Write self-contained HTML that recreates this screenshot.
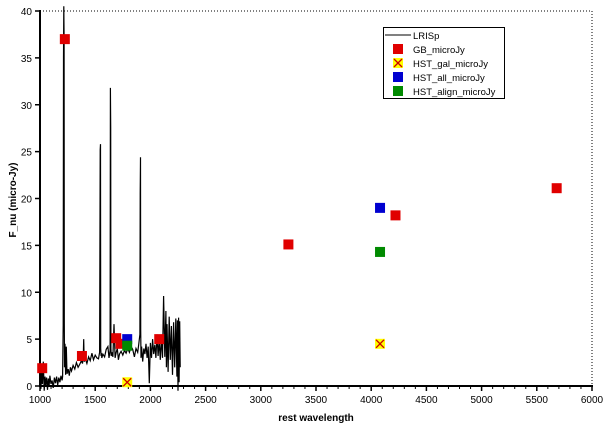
<!DOCTYPE html>
<html><head><meta charset="utf-8"><style>
body{margin:0;background:#fff}
svg{display:block;font-family:"Liberation Sans",sans-serif}
</style></head><body>
<svg id="chart" width="610" height="430"></svg>
<script>
const xTicks=[1000,1500,2000,2500,3000,3500,4000,4500,5000,5500,6000];
const yTicks=[0,5,10,15,20,25,30,35,40];
const specWave=[1000,1008,1015,1022,1030,1038,1045,1052,1060,1068,1075,1082,1090,1100,1110,1120,1130,1140,1150,1160,1170,1180,1190,1200,1205,1210,1213,1216,1218,1220,1222,1226,1232,1238,1245,1255,1265,1275,1285,1300,1315,1330,1345,1360,1375,1385,1392,1396,1400,1410,1425,1440,1455,1470,1485,1500,1515,1530,1540,1545,1548,1550,1553,1556,1560,1570,1585,1600,1615,1625,1635,1638,1640,1642,1645,1650,1660,1670,1680,1690,1700,1710,1720,1735,1750,1765,1780,1795,1810,1825,1840,1855,1870,1885,1895,1905,1908,1910,1912,1915,1920,1930,1940,1950,1960,1970,1980,1990,2000,2010,2020,2030,2040,2050,2060,2070,2080,2090,2100,2110,2120,2130,2140,2145,2150,2160,2170,2180,2190,2200,2210,2220,2230,2240,2245,2250,2255,2260,2265,2270];
const specFlux=[2.4,-0.3,1.8,0.2,2.6,-0.5,1.0,0.1,0.9,-0.4,0.8,0.0,1.1,0.2,0.6,-0.2,0.9,0.3,1.0,0.1,0.9,0.4,1.1,0.6,1.0,6.5,35,40.5,37,6.7,2.0,4.5,1.2,4.2,1.3,1.8,1.1,2.0,1.6,2.2,1.8,2.5,2.0,2.3,2.7,2.4,3.2,5.0,2.6,2.9,2.4,3.1,2.7,3.5,2.8,3.3,3.0,2.9,3.6,25.2,25.8,4.0,3.2,3.5,3.0,3.4,3.1,3.9,4.2,3.0,3.8,31.8,27.6,4.0,3.2,3.6,3.1,6.6,3.0,3.6,4.0,2.8,3.4,3.7,3.3,3.8,3.5,4.0,3.6,4.2,3.9,3.1,4.0,3.6,4.5,5.5,20.5,24.4,6.0,3.0,4.2,2.6,4.0,3.4,4.5,3.0,4.2,0.3,4.6,3.0,5.0,3.4,4.4,3.0,5.5,3.2,4.8,2.8,5.2,3.0,9.6,3.1,8.0,2.0,6.6,1.5,7.4,2.8,6.4,1.2,6.8,2.0,7.2,1.0,7.0,-0.5,7.3,0.4,6.9,2.0];
const gbWave=[1020,1225,1380,1690,1730,2080,3250,4220,5680];
const gbFlux=[1.9,37,3.2,5.1,4.5,5.0,15.1,18.2,21.1];
const galWave=[1790,4080];const galFlux=[0.4,4.5];
const allWave=[1790,4080];const allFlux=[5.0,19.0];
const alignWave=[1790,4080];const alignFlux=[4.3,14.3];

const NS="http://www.w3.org/2000/svg";
const svg=document.getElementById('chart');
const X0=40,X1=592,Y0=386,Y1=11;
const sx=v=>X0+(v-1000)/5000*(X1-X0);
const sy=v=>Y0-v/40*(Y0-Y1);
function mk(t,a,p){const e=document.createElementNS(NS,t);for(const k in a)e.setAttribute(k,a[k]);(p||svg).appendChild(e);return e;}
let g=mk('g',{});
let e=mk('line',{x1:X0,y1:Y1,x2:X1,y2:Y1,stroke:'#000','stroke-dasharray':'1,2'});


e=mk('line',{x1:X1,y1:Y1,x2:X1,y2:Y0,stroke:'#000','stroke-dasharray':'1,2'});


// spectrum
let d='';specWave.forEach((w,i)=>{d+=(i?'L':'M')+sx(w).toFixed(1)+','+sy(specFlux[i]).toFixed(1);});
e=mk('path',{d:d,fill:'none',stroke:'#000','stroke-width':1.2});


// axes
e=mk('line',{x1:X0,y1:Y1-1,x2:X0,y2:Y0+1,stroke:'#000','stroke-width':2});


e=mk('line',{x1:X0-1,y1:Y0,x2:X1+1,y2:Y0,stroke:'#000','stroke-width':2});


xTicks.forEach(t=>{
 mk('line',{x1:sx(t),y1:Y0,x2:sx(t),y2:Y0+5,stroke:'#000','stroke-width':1.5});
 for(let m=1;m<5&&t<6000;m++)mk('line',{x1:sx(t+m*100),y1:Y0,x2:sx(t+m*100),y2:Y0+3,stroke:'#000'});
 const l=mk('text',{x:sx(t),y:Y0+17,'font-size':10,'text-anchor':'middle'});l.textContent=t;
 
 
});
yTicks.forEach(t=>{
 mk('line',{x1:X0-5,y1:sy(t),x2:X0,y2:sy(t),stroke:'#000','stroke-width':1.5});
 const l=mk('text',{x:X0-8,y:sy(t)+4,'font-size':10,'text-anchor':'end'});l.textContent=t;
 
 
});
e=mk('text',{x:316,y:421,'font-size':10,'font-weight':'bold','text-anchor':'middle'});e.textContent='rest wavelength';


e=mk('text',{x:16,y:200,'font-size':10,'font-weight':'bold','text-anchor':'middle',transform:'rotate(-90 16 200)'});e.textContent='F_nu (micro-Jy)';


function sq(x,y,c,name){const r=mk('rect',{x:x-5,y:y-5,width:10,height:10,fill:c});
 
 return r;}
function cross(x,y,name){const gg=mk('g',{});
 
 
 mk('rect',{x:x-5,y:y-5,width:10,height:10,fill:'#ff0'},gg);
 mk('path',{d:`M${x-4},${y-4}L${x+4},${y+4}M${x+4},${y-4}L${x-4},${y+4}`,stroke:'#c00','stroke-width':1.3},gg);}
gbWave.forEach((w,i)=>sq(sx(w),sy(gbFlux[i]),'#e00000','gb-point'));
allWave.forEach((w,i)=>sq(sx(w),sy(allFlux[i]),'#0000d0','hst-all-point'));
alignWave.forEach((w,i)=>sq(sx(w),sy(alignFlux[i]),'#008a00','hst-align-point'));
galWave.forEach((w,i)=>cross(sx(w),sy(galFlux[i]),'hst-gal-point'));
// legend
const lg=mk('g',{});


mk('rect',{x:383.5,y:27.5,width:121,height:71,fill:'#fff',stroke:'#000'},lg);
mk('line',{x1:385,y1:35,x2:411,y2:35,stroke:'#000'},lg);
const names=['LRISp','GB_microJy','HST_gal_microJy','HST_all_microJy','HST_align_microJy'];
names.forEach((n,i)=>{const y=35+i*14;
 const t=mk('text',{x:413,y:y+4,'font-size':9.5},lg);t.textContent=n;
 
 });
sq(398,49,'#e00000','legend-gb-marker');
cross(398,63,'legend-hst-gal-marker');
sq(398,77,'#0000d0','legend-hst-all-marker');
sq(398,91,'#008a00','legend-hst-align-marker');
</script>
</body></html>
